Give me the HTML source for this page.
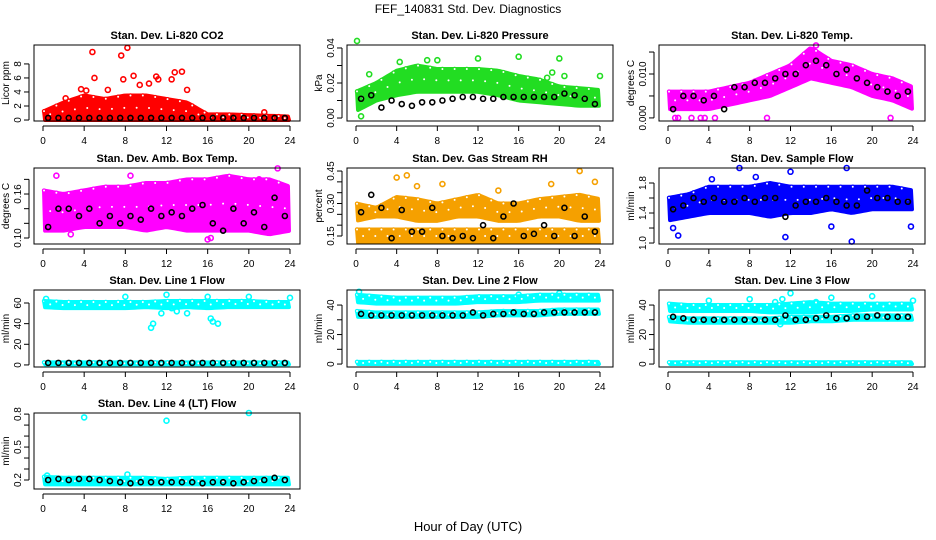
<!DOCTYPE html>
<html><head><meta charset="utf-8"><style>
html,body{margin:0;padding:0;background:#fff;}
svg{display:block;font-family:"Liberation Sans",sans-serif;}
</style></head><body>
<svg id="chart" width="936" height="540" viewBox="0 0 936 540">
<text x="468" y="13" font-size="12" text-anchor="middle">FEF_140831  Std. Dev. Diagnostics</text>
<text x="468" y="531" font-size="13" text-anchor="middle">Hour of Day (UTC)</text>
</svg>
<script>
// ---- data ----
const hoursBand=[0,2,4,6,8,10,12,14,16,18,20,22,24];
const xTicks=[0,4,8,12,16,20,24];
// CO2
const co2Lo=[0,0,0,0,0,0,0,0,0,0,0,0,0];
const co2Hi=[1.2,2.5,3.5,3,3.5,3.5,3,2.5,0.8,0.8,0.7,0.6,0.5];
const co2Out=[[4.8,9.7],[7.6,9.2],[8.2,10.3],[5,6],[7.8,5.8],[8.8,6.3],[11,6.2],[12.8,6.8],[13.5,6.9],[11.2,5.8],[12.5,5.8],[6.3,4.3],[3.7,4.4],[10.3,5.2],[9.4,5],[14,4.3],[21.5,1.1],[2.2,3.1],[4.2,4.2]];
const co2Black=[0.3,0.3,0.3,0.3,0.3,0.3,0.3,0.3,0.3,0.3,0.3,0.3,0.3,0.3,0.3,0.3,0.3,0.3,0.3,0.3,0.3,0.3,0.3,0.3];
const co2Ticks=[0,2,4,6,8];
// Pressure
const presLo=[0.004,0.01,0.013,0.015,0.015,0.015,0.015,0.013,0.01,0.009,0.008,0.007,0.007];
const presHi=[0.015,0.02,0.027,0.03,0.028,0.028,0.028,0.027,0.024,0.022,0.018,0.017,0.016];
const presOut=[[0.1,0.044],[0.5,0.001],[12,0.034],[16,0.035],[20,0.034],[24,0.024],[7,0.033],[8,0.033],[19.3,0.026],[18.8,0.023],[20.5,0.024],[4.3,0.032],[1.3,0.025]];
const presBlack=[0.011,0.013,0.006,0.01,0.008,0.007,0.009,0.009,0.01,0.011,0.012,0.012,0.011,0.011,0.012,0.012,0.012,0.012,0.012,0.012,0.014,0.013,0.011,0.008];
const presTicks=[0,0.01,0.02,0.03,0.04];
const presLabels=["0.00","","0.02","","0.04"];
// Li-820 Temp
const tempLo=[0.002,0.002,0.002,0.003,0.004,0.005,0.007,0.009,0.008,0.007,0.005,0.004,0.002];
const tempHi=[0.006,0.006,0.006,0.007,0.008,0.01,0.012,0.016,0.013,0.012,0.01,0.009,0.007];
const tempOut=[[0.7,0],[1,0],[2.3,0],[3.2,0],[3.6,0],[4.6,0],[9.7,0],[21.8,0],[14.5,0.0165]];
const tempBlack=[0.002,0.005,0.005,0.004,0.005,0.002,0.007,0.007,0.008,0.008,0.009,0.01,0.01,0.012,0.013,0.012,0.01,0.011,0.009,0.008,0.007,0.006,0.005,0.006];
const tempTicks=[0,0.005,0.01,0.015];
const tempLabels=["0.000","","0.010",""];
// Amb box temp
const ambLo=[0.11,0.11,0.115,0.115,0.115,0.11,0.115,0.11,0.11,0.11,0.11,0.105,0.11];
const ambHi=[0.165,0.16,0.165,0.17,0.17,0.175,0.175,0.18,0.18,0.185,0.18,0.18,0.17];
const ambOut=[[1.3,0.185],[8.5,0.185],[16,0.098],[16.3,0.1],[22.8,0.195],[21,0.18],[2.7,0.105]];
const ambBlack=[0.115,0.14,0.14,0.13,0.14,0.12,0.13,0.12,0.13,0.125,0.14,0.13,0.135,0.13,0.14,0.145,0.12,0.11,0.14,0.12,0.135,0.115,0.155,0.13];
const ambTicks=[0.10,0.12,0.14,0.16,0.18];
const ambLabels=["0.10","","","0.16",""];
// Gas stream RH
const rhLo=[0.12,0.12,0.12,0.12,0.12,0.12,0.12,0.12,0.12,0.12,0.12,0.12,0.12];
const rhHi=[0.18,0.18,0.18,0.18,0.18,0.18,0.18,0.18,0.18,0.18,0.18,0.18,0.18];
const rhLo2=[0.22,0.24,0.24,0.22,0.22,0.24,0.24,0.22,0.22,0.24,0.24,0.22,0.22];
const rhHi2=[0.3,0.28,0.33,0.32,0.3,0.32,0.34,0.3,0.3,0.32,0.33,0.34,0.32];
const rhOut=[[4,0.42],[5,0.43],[8.5,0.39],[22,0.45],[23.5,0.4],[19.2,0.39],[14,0.36],[6,0.38]];
const rhBlack=[0.26,0.34,0.28,0.14,0.27,0.17,0.17,0.28,0.15,0.14,0.15,0.14,0.2,0.14,0.24,0.3,0.15,0.16,0.2,0.15,0.28,0.15,0.24,0.17];
const rhTicks=[0.15,0.2,0.25,0.3,0.35,0.4,0.45];
const rhLabels=["0.15","","","0.30","","","0.45"];
// Sample flow
const sfLo=[1.3,1.35,1.4,1.4,1.4,1.35,1.4,1.4,1.45,1.4,1.45,1.45,1.45];
const sfHi=[1.6,1.65,1.75,1.75,1.75,1.8,1.75,1.75,1.75,1.75,1.75,1.75,1.7];
const sfOut=[[0.5,1.2],[1,1.1],[7,2.0],[11.5,1.08],[17.5,2.0],[18,1.02],[12,1.95],[4.3,1.85],[8.6,1.88],[16,1.22],[23.8,1.22]];
const sfBlack=[1.45,1.5,1.6,1.55,1.6,1.55,1.55,1.6,1.55,1.6,1.6,1.35,1.5,1.55,1.55,1.6,1.55,1.5,1.5,1.7,1.6,1.6,1.55,1.55];
const sfTicks=[1.0,1.2,1.4,1.6,1.8];
const sfLabels=["1.0","","1.4","","1.8"];
// Line 1 flow
const l1Lo=[56,55,55,55,55,56,55,56,55,56,56,56,56];
const l1Hi=[62,61,61,61,61,61,62,62,62,62,62,61,61];
const l1Lo2=[0.5,0.5,0.5,0.5,0.5,0.5,0.5,0.5,0.5,0.5,0.5,0.5,0.5];
const l1Hi2=[2.5,2.5,2.5,2.5,2.5,2.5,2.5,2.5,2.5,2.5,2.5,2.5,2.5];
const l1Out=[[10.5,36],[10.7,40],[12,68],[12.5,55],[11.5,50],[16.5,42],[17,40],[16.3,45],[14,50],[13,52],[16,66],[20,66],[8,66],[24,65],[0.3,64]];
const l1Black=[2,2,2,2,2,2,2,2,2,2,2,2,2,2,2,2,2,2,2,2,2,2,2,2];
const l1Ticks=[0,20,40,60];
const l1Labels=["0","20","40","60"];
// Line 2 flow
const l2Lo=[42,41,41,41,41,41,42,42,42,43,43,43,43];
const l2Hi=[47,46,45,45,45,45,46,46,46,47,47,47,47];
const l2Lo2=[32,32,32,32,32,32,32,33,33,33,34,34,34];
const l2Hi2=[36,35,35,35,35,35,35,36,36,36,37,37,37];
const l2Lo3=[0,0,0,0,0,0,0,0,0,0,0,0,0];
const l2Hi3=[1.5,1.5,1.5,1.5,1.5,1.5,1.5,1.5,1.5,1.5,1.5,1.5,1.5];
const l2Out=[[0.3,49],[20,48],[16,47]];
const l2Black=[34,33,33,33,33,33,33,33,33,33,33,35,33,34,34,35,34,34,35,35,35,35,35,35];
const l2Ticks=[0,10,20,30,40];
const l2Labels=["0","","20","","40"];
// Line 3 flow
const l3Lo=[36,36,36,36,36,35,35,35,36,36,37,37,37];
const l3Hi=[41,40,40,40,40,40,41,42,41,41,41,41,41];
const l3Lo2=[29,28,28,28,28,28,28,29,29,30,30,30,30];
const l3Hi2=[32,31,31,31,31,31,32,32,32,33,33,33,33];
const l3Lo3=[0,0,0,0,0,0,0,0,0,0,0,0,0];
const l3Hi3=[1.2,1.2,1.2,1.2,1.2,1.2,1.2,1.2,1.2,1.2,1.2,1.2,1.2];
const l3Out=[[12,48],[11.2,44],[10.5,42],[16,45],[20,46],[4,43],[8,44],[24,43],[14.5,42],[11,27]];
const l3Black=[32,31,30,30,30,30,30,30,30,30,30,33,30,30,31,33,31,31,32,32,33,32,32,32];
const l3Ticks=[0,10,20,30,40];
const l3Labels=["0","","20","","40"];
// Line 4 (LT) flow
const l4Lo=[0.16,0.16,0.16,0.16,0.16,0.16,0.16,0.16,0.16,0.16,0.16,0.16,0.16];
const l4Hi=[0.23,0.22,0.22,0.22,0.22,0.22,0.21,0.22,0.22,0.22,0.22,0.22,0.22];
const l4Out=[[4,0.77],[12,0.74],[20,0.81],[8.2,0.25],[0.4,0.24]];
const l4Black=[0.2,0.21,0.2,0.21,0.21,0.2,0.19,0.18,0.17,0.18,0.18,0.18,0.18,0.18,0.18,0.17,0.18,0.18,0.17,0.18,0.19,0.2,0.22,0.2];
const l4Ticks=[0.2,0.3,0.4,0.5,0.6,0.7,0.8];
const l4Labels=["0.2","","","0.5","","","0.8"];

// ---- layout ----
const cols=[{l:34,r:300,x0:43,x24:290},{l:347,r:613,x0:356,x24:600},{l:659,r:925,x0:668,x24:913}];
const rows=[{t:45,b:121},{t:168,b:244},{t:290,b:367},{t:413,b:489}];
const panels=[
 {id:"co2",title:"Stan. Dev. Li-820 CO2",yt:"Licor ppm",c:0,r:0,ymin:-0.14,ymax:10.7,col:"#ff0000",bands:[[co2Lo,co2Hi]],out:co2Out,blk:co2Black,ticks:co2Ticks,labels:co2Ticks.map(String)},
 {id:"pressure",title:"Stan. Dev. Li-820 Pressure",yt:"kPa",c:1,r:0,ymin:-0.0017,ymax:0.0417,col:"#22dd22",bands:[[presLo,presHi]],out:presOut,blk:presBlack,ticks:presTicks,labels:presLabels},
 {id:"li820-temp",title:"Stan. Dev. Li-820 Temp.",yt:"degrees C",c:2,r:0,ymin:-0.0007,ymax:0.0166,col:"#ff00ff",bands:[[tempLo,tempHi]],out:tempOut,blk:tempBlack,ticks:tempTicks,labels:tempLabels},
 {id:"amb-box-temp",title:"Stan. Dev. Amb. Box Temp.",yt:"degrees C",c:0,r:1,ymin:0.0918,ymax:0.1955,col:"#ff00ff",bands:[[ambLo,ambHi]],out:ambOut,blk:ambBlack,ticks:ambTicks,labels:ambLabels},
 {id:"gas-stream-rh",title:"Stan. Dev. Gas Stream RH",yt:"percent",c:1,r:1,ymin:0.113,ymax:0.464,col:"#f5a000",bands:[[rhLo,rhHi],[rhLo2,rhHi2]],out:rhOut,blk:rhBlack,ticks:rhTicks,labels:rhLabels},
 {id:"sample-flow",title:"Stan. Dev. Sample Flow",yt:"ml/min",c:2,r:1,ymin:0.987,ymax:2.0,col:"#0000ff",bands:[[sfLo,sfHi]],out:sfOut,blk:sfBlack,ticks:sfTicks,labels:sfLabels},
 {id:"line1-flow",title:"Stan. Dev. Line 1 Flow",yt:"ml/min",c:0,r:2,ymin:-2,ymax:72.6,col:"#00ffff",bands:[[l1Lo,l1Hi],[l1Lo2,l1Hi2]],out:l1Out,blk:l1Black,ticks:l1Ticks,labels:l1Labels},
 {id:"line2-flow",title:"Stan. Dev. Line 2 Flow",yt:"ml/min",c:1,r:2,ymin:-2,ymax:50.2,col:"#00ffff",bands:[[l2Lo,l2Hi],[l2Lo2,l2Hi2],[l2Lo3,l2Hi3]],out:l2Out,blk:l2Black,ticks:l2Ticks,labels:l2Labels},
 {id:"line3-flow",title:"Stan. Dev. Line 3 Flow",yt:"ml/min",c:2,r:2,ymin:-2,ymax:50.2,col:"#00ffff",bands:[[l3Lo,l3Hi],[l3Lo2,l3Hi2],[l3Lo3,l3Hi3]],out:l3Out,blk:l3Black,ticks:l3Ticks,labels:l3Labels},
 {id:"line4-flow",title:"Stan. Dev. Line 4 (LT) Flow",yt:"ml/min",c:0,r:3,ymin:0.118,ymax:0.81,col:"#00ffff",bands:[[l4Lo,l4Hi]],out:l4Out,blk:l4Black,ticks:l4Ticks,labels:l4Labels}
];
const NS="http://www.w3.org/2000/svg";
const svg=document.getElementById("chart");
function mk(tag,attrs,parent){const e=document.createElementNS(NS,tag);for(const k in attrs)e.setAttribute(k,attrs[k]);parent.appendChild(e);return e;}
function interp(arr,h){const i=Math.min(Math.floor(h/2),11);const f=(h-hoursBand[i])/2;return arr[i]*(1-f)+arr[i+1]*f;}

panels.forEach(p=>{
 const C=cols[p.c],R=rows[p.r];
 const xs=h=>C.x0+h*(C.x24-C.x0)/24;
 const ys=v=>R.b-(v-p.ymin)/(p.ymax-p.ymin)*(R.b-R.t);
 const g=mk("g",{},svg);
 
 
 const t=mk("text",{x:(C.l+C.r)/2,y:R.t-6,"font-size":11,"font-weight":"bold","text-anchor":"middle"},g);
 t.textContent=p.title;
 
 
 const cg=mk("g",{fill:"none",stroke:p.col,"stroke-width":1.6},g);
 
 
 p.bands.forEach(b=>{
   const lo=b[0],hi=b[1];
   let pts=[];
   for(let h=0.1;h<=23.95;h+=0.3)pts.push(xs(h)+","+ys(interp(hi,h)));
   for(let h=23.9;h>=0.05;h-=0.3)pts.push(xs(h)+","+ys(interp(lo,h)));
   const poly=mk("polygon",{points:pts.join(" "),fill:p.col,stroke:p.col,"stroke-width":4,"stroke-linejoin":"round"},cg);
   
   
   let k=0;
   for(let h=0.1;h<=24;h+=0.6){
     k++;
     const m=(interp(lo,h)+interp(hi,h))/2;
     const v=(k%2)?interp(hi,h):m;
     const c=mk("circle",{cx:xs(h),cy:ys(v),r:1.6,fill:"#fff","stroke-width":1.2},cg);
     
     
   }
 });
 p.out.forEach(o=>{
   const c=mk("circle",{cx:xs(o[0]),cy:ys(o[1]),r:2.5},cg);
   
   
 });
 const bg=mk("g",{fill:"none",stroke:"#000","stroke-width":1.6},g);
 
 
 p.blk.forEach((v,i)=>{
   const c=mk("circle",{cx:xs(i+0.5),cy:ys(v),r:2.5},bg);
   
   
 });
 const box=mk("rect",{x:C.l,y:R.t,width:C.r-C.l,height:R.b-R.t,fill:"none",stroke:"#000","stroke-width":1},g);
 
 
 // x axis
 const xa=mk("g",{"font-size":10},g);
 
 
 mk("line",{x1:xs(0),x2:xs(24),y1:R.b+5,y2:R.b+5,stroke:"#000"},xa);
 xTicks.forEach(v=>{
   mk("line",{x1:xs(v),x2:xs(v),y1:R.b+5,y2:R.b+10,stroke:"#000"},xa);
   const tx=mk("text",{x:xs(v),y:R.b+23,"text-anchor":"middle"},xa);
   tx.textContent=v;
   
   
 });
 // y axis
 const ya=mk("g",{"font-size":10},g);
 
 
 const yax=C.l-5;
 mk("line",{x1:yax,x2:yax,y1:ys(p.ticks[0]),y2:ys(p.ticks[p.ticks.length-1]),stroke:"#000"},ya);
 p.ticks.forEach((v,i)=>{
   const y=ys(v);
   mk("line",{x1:yax-5,x2:yax,y1:y,y2:y,stroke:"#000"},ya);
   if(p.labels[i]){
     const tx=mk("text",{x:0,y:0,"text-anchor":"middle",transform:`translate(${yax-8},${y}) rotate(-90)`},ya);
     tx.textContent=p.labels[i];
     
     
   }
 });
 const yt=mk("text",{x:0,y:0,"font-size":10,"text-anchor":"middle",transform:`translate(${C.l-25},${(R.t+R.b)/2}) rotate(-90)`},g);
 yt.textContent=p.yt;
 
 
});
</script>
</body></html>
